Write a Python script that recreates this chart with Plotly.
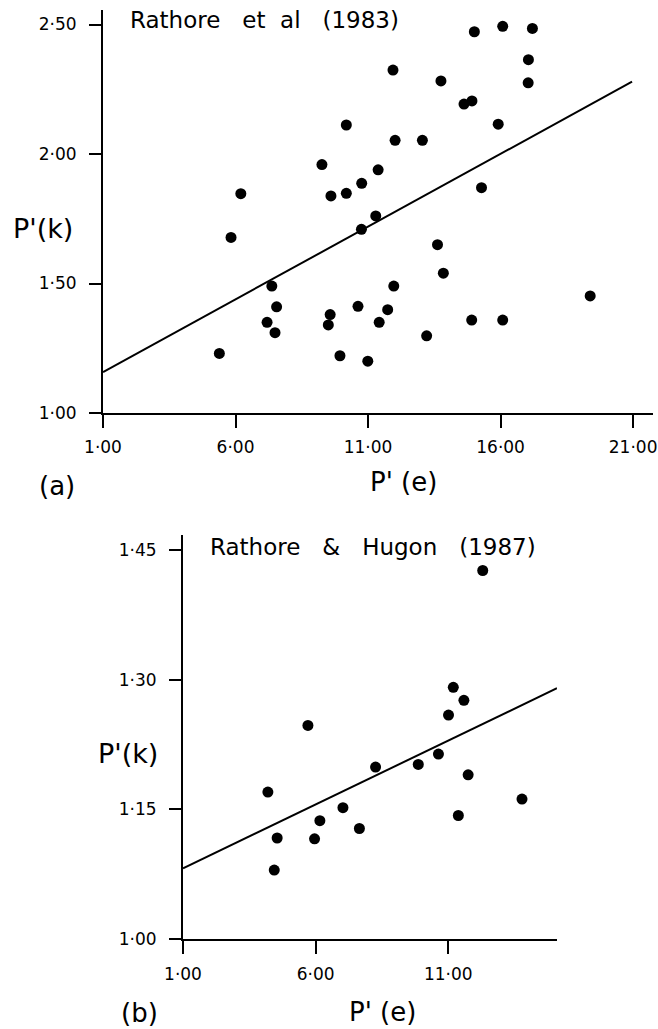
import plotly.graph_objects as go

W, H = 658, 1029

# ---- panel (a): Rathore et al (1983) ----
a_x = [5.39, 5.83, 6.20, 7.37, 7.55, 7.19, 7.49, 9.26,
       15.01, 16.08, 17.20, 17.05, 17.04, 11.94, 13.75, 14.62, 14.92, 15.91,
       10.18, 12.02, 13.05, 9.60, 10.18, 10.76, 11.38, 15.28, 11.29, 10.75,
       13.62, 13.84, 11.97, 19.38, 10.62, 11.74, 9.57, 9.50, 11.42, 14.91,
       16.08, 13.21, 9.94, 10.99]
a_y = [1.230, 1.678, 1.847, 1.490, 1.410, 1.350, 1.310, 1.959,
       2.472, 2.493, 2.485, 2.364, 2.275, 2.324, 2.282, 2.193, 2.205, 2.115,
       2.112, 2.053, 2.053, 1.838, 1.848, 1.887, 1.939, 1.870, 1.761, 1.709,
       1.650, 1.540, 1.490, 1.452, 1.412, 1.399, 1.380, 1.340, 1.350, 1.359,
       1.359, 1.298, 1.221, 1.200]
a_fit_x = [1.0, 20.96]
a_fit_y = [1.158, 2.279]
a_xticks = [1, 6, 11, 16, 21]
a_xticktext = ["1·00", "6·00", "11·00", "16·00", "21·00"]
a_yticks = [1.0, 1.5, 2.0, 2.5]
a_yticktext = ["1·00", "1·50", "2·00", "2·50"]

# ---- panel (b): Rathore & Hugon (1987) ----
b_x = [12.30, 5.71, 11.19, 11.59, 11.01, 10.63, 9.87, 8.26, 11.75, 4.20,
       13.78, 11.38, 6.16, 7.03, 7.65, 4.55, 5.96, 4.44]
b_y = [1.426, 1.247, 1.291, 1.276, 1.259, 1.214, 1.202, 1.199, 1.190, 1.170,
       1.162, 1.143, 1.137, 1.152, 1.128, 1.117, 1.116, 1.080]
b_fit_x = [1.0, 15.1]
b_fit_y = [1.082, 1.290]
b_xticks = [1, 6, 11]
b_xticktext = ["1·00", "6·00", "11·00"]
b_yticks = [1.00, 1.15, 1.30, 1.45]
b_yticktext = ["1·00", "1·15", "1·30", "1·45"]

FONT = "DejaVu Sans"


def px(x):
    return x / W


def py(y):
    return 1 - y / H


fig = go.Figure()

fig.add_trace(go.Scatter(x=a_fit_x, y=a_fit_y, mode="lines",
                         line=dict(color="black", width=2),
                         xaxis="x", yaxis="y", showlegend=False))
fig.add_trace(go.Scatter(x=a_x, y=a_y, mode="markers",
                         marker=dict(color="black", size=11),
                         xaxis="x", yaxis="y", showlegend=False, cliponaxis=False))
fig.add_trace(go.Scatter(x=b_fit_x, y=b_fit_y, mode="lines",
                         line=dict(color="black", width=2),
                         xaxis="x2", yaxis="y2", showlegend=False))
fig.add_trace(go.Scatter(x=b_x, y=b_y, mode="markers",
                         marker=dict(color="black", size=11),
                         xaxis="x2", yaxis="y2", showlegend=False, cliponaxis=False))

axis_common = dict(showgrid=False, zeroline=False, showline=True,
                   linecolor="black", linewidth=2, ticks="outside",
                   tickcolor="black", tickwidth=2, automargin=False,
                   ticklabeloverflow="allow",
                   tickfont=dict(family=FONT, size=17, color="black"))

fig.update_layout(
    width=W, height=H,
    margin=dict(l=0, r=0, t=0, b=0),
    paper_bgcolor="white", plot_bgcolor="white",
    font=dict(family=FONT, color="black"),
    xaxis=dict(domain=[px(103), px(653)], range=[1, 21.75], anchor="y",
               tickvals=a_xticks, ticktext=a_xticktext, ticklen=13,
               ticklabelstandoff=5, **axis_common),
    yaxis=dict(domain=[py(413), py(10)], range=[1, 2.556], anchor="x",
               tickvals=a_yticks, ticktext=a_yticktext, ticklen=12,
               ticklabelstandoff=9, **axis_common),
    xaxis2=dict(domain=[px(183), px(557)], range=[1, 15.1], anchor="y2",
                tickvals=b_xticks, ticktext=b_xticktext, ticklen=13,
                ticklabelstandoff=5, **axis_common),
    yaxis2=dict(domain=[py(939.3), py(535)], range=[1, 1.467], anchor="x2",
                tickvals=b_yticks, ticktext=b_yticktext, ticklen=12,
                ticklabelstandoff=9, **axis_common),
)


def ann(text, x, y, size, xanchor="center"):
    fig.add_annotation(text=text, x=px(x), y=py(y), xref="paper", yref="paper",
                       xanchor=xanchor, yanchor="middle", showarrow=False,
                       font=dict(family=FONT, size=size, color="black"))


ann("Rathore&nbsp;&nbsp;&nbsp;et&nbsp;&nbsp;al&nbsp;&nbsp;&nbsp;(1983)", 128, 20, 23, "left")
ann("P'(k)", 43, 228, 27)
ann("(a)", 57, 486, 26)
ann("P'&nbsp;(e)", 403, 482, 26)

ann("Rathore&nbsp;&nbsp;&nbsp;&amp;&nbsp;&nbsp;&nbsp;Hugon&nbsp;&nbsp;&nbsp;(1987)", 208, 547, 23, "left")
ann("P'(k)", 128, 753, 27)
ann("(b)", 139, 1013, 26)
ann("P'&nbsp;(e)", 382, 1012, 26)

fig.write_html("out.html")
